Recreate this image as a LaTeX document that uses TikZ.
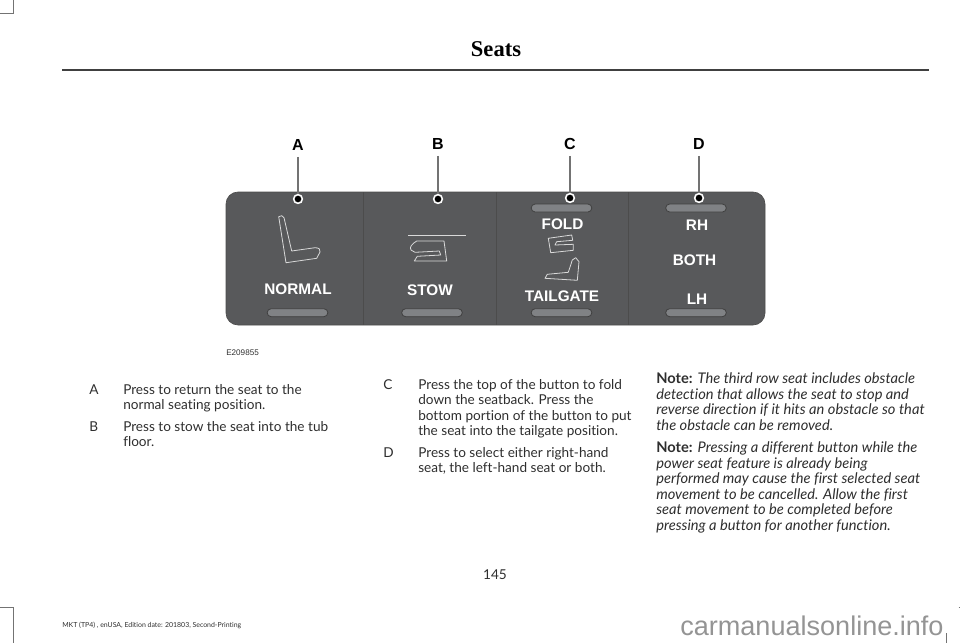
\documentclass[tikz,border=0pt]{standalone}
\usepackage{fontspec}
\setmainfont[Ligatures=NoCommon]{Lato}
\newfontfamily\panelfont{Liberation Sans}
\newfontfamily\titlefont{Liberation Serif}
\usetikzlibrary{
  positioning,
  arrows.meta
}
\definecolor{panelgray}{HTML}{58595B}
\definecolor{pillgray}{HTML}{808285}
\definecolor{bodyink}{HTML}{2E2E2E}
\tikzset{
  bodytext/.style={anchor=north west,inner sep=0,align=left,text=bodyink,
    font=\fontsize{10.2}{11.65}\selectfont},
  notetext/.style={bodytext,font=\fontsize{11}{11.65}\selectfont},
  paneltext/.style={text=white,inner sep=0,font=\panelfont\bfseries\fontsize{11.5}{12}\selectfont},
  callout/.style={text=black,inner sep=0,font=\panelfont\bfseries\fontsize{12}{13}\selectfont},
  pill/.style={draw=black!75,fill=pillgray,line width=0.6,rounded corners=3,
    minimum width=45.5,minimum height=6,inner sep=0},
  calloutdot/.style={circle,draw=white,fill=black,line width=1.2,minimum size=6.5,inner sep=0},
  seaticon/.style={draw=white!85!black,line width=0.6,line join=round},
  cropmark/.style={draw=black!55,line width=0.75},
  leader/.style={draw=black!55,line width=1}
}

\begin{document}
\begin{tikzpicture}[x=0.75pt,y=-0.75pt]
  \useasboundingbox (0,0) rectangle (960,643);

  % crop marks
  \draw[cropmark] (0,13) -- (13,13) -- (13,0);
  \draw[cropmark] (0,607) -- (13,607) -- (13,643);
  \draw[cropmark] (946,633) -- (946,643);
  \draw[cropmark] (958.5,607) -- (960,607);

  % header
  \node[inner sep=0,text=black,font=\titlefont\bfseries\fontsize{16.9}{18}\selectfont] (title) at (496,49) {Seats};
  \draw[black!75,line width=0.9] (62,70) -- (929,70);

  % panel
  \fill[panelgray,draw=black!70,line width=0.5,rounded corners=9] (226,192) rectangle (765,325);
  \draw[black!70,line width=0.6] (363.5,192) -- (363.5,325);
  \draw[black!70,line width=0.6] (496.7,192) -- (496.7,325);
  \draw[black!70,line width=0.6] (628.7,192) -- (628.7,325);

  \node[pill] (pillA) at (297.5,312.7) {};
  \node[pill] (pillB) at (432,312.7) {};
  \node[pill] (pillCtop) at (561.5,208) {};
  \node[pill] (pillCbot) at (561.5,312.7) {};
  \node[pill] (pillDtop) at (696,208) {};
  \node[pill] (pillDbot) at (696,312.7) {};

  \node[paneltext] (normal) at (298,289) {NORMAL};
  \node[paneltext] (stow) at (430,290) {STOW};
  \node[paneltext] (fold) at (562.5,224) {FOLD};
  \node[paneltext] (tailgate) at (562,296) {TAILGATE};
  \node[paneltext] (rh) at (697,225.5) {RH};
  \node[paneltext] (both) at (694.5,260.5) {BOTH};
  \node[paneltext] (lh) at (697,299) {LH};

  % seat icons
  \draw[seaticon] (278.7,216.7) -- (281.7,215.7) -- (284,217.7) -- (291.7,251) -- (315,247.7)
    .. controls (319,247.5) and (321,250) .. (320,252) -- (316.7,258.3) -- (286,262.7) -- cycle;
  \draw[seaticon] (408,235.3) -- (465.7,235.3);
  \draw[seaticon] (444,241) -- (416.7,241) .. controls (412,244) and (409,247) .. (411,250)
    -- (415,252.3) -- (439.3,251) -- (440.7,255) -- (417.3,256.3) -- (414.3,261) -- (446.7,261) -- cycle;
  \draw[seaticon] (548.3,238.3) -- (571.7,235) -- (572.7,240.3) -- (556.7,241.7) -- (555,245)
    -- (573.3,244.3) -- (573.3,250.3) -- (550.7,252.7) -- cycle;
  \draw[seaticon] (545,278.3) -- (547.3,274.3) -- (568.3,272.3) -- (572.3,260) -- (575.7,257.7)
    -- (579,261.7) -- (577.3,280.3) -- cycle;

  % callouts
  \node[callout] (labelA) at (298,145) {A};
  \node[callout] (labelB) at (438,144) {B};
  \node[callout] (labelC) at (570,144) {C};
  \node[callout] (labelD) at (699,144) {D};
  \node[calloutdot] (dotA) at (298,199) {};
  \node[calloutdot] (dotB) at (438,199) {};
  \node[calloutdot] (dotC) at (570,198) {};
  \node[calloutdot] (dotD) at (699,198) {};
  \draw[leader] (labelA.south) ++(0,6) coordinate (topA) -- (dotA);
  \draw[leader] (labelB.south) ++(0,6) coordinate (topB) -- (dotB);
  \draw[leader] (labelC.south) ++(0,6) coordinate (topC) -- (dotC);
  \draw[leader] (labelD.south) ++(0,6) coordinate (topD) -- (dotD);

  \node[anchor=west,inner sep=0,text=bodyink,font=\panelfont\fontsize{6.1}{7}\selectfont] (code) at (226,353) {E209855};

  % text columns
  \node[bodytext] (keyA) at (89,384) {A};
  \node[bodytext] (textA) at (123,384) {Press to return the seat to the\\normal seating position.};
  \node[bodytext] (keyB) at (89,421) {B};
  \node[bodytext] (textB) at (123,421) {Press to stow the seat into the tub\\floor.};
  \node[bodytext] (keyC) at (383,379) {C};
  \node[bodytext] (textC) at (418,379) {Press the top of the button to fold\\down the seatback. Press the\\bottom portion of the button to put\\the seat into the tailgate position.};
  \node[bodytext] (keyD) at (383,447) {D};
  \node[bodytext] (textD) at (418,447) {Press to select either right-hand\\seat, the left-hand seat or both.};
  \node[notetext] (noteA) at (656,372.5) {\textbf{Note:} \textit{The third row seat includes obstacle}\\\textit{detection that allows the seat to stop and}\\\textit{reverse direction if it hits an obstacle so that}\\\textit{the obstacle can be removed.}};
  \node[notetext] (noteB) at (656,441.5) {\textbf{Note:} \textit{Pressing a different button while the}\\\textit{power seat feature is already being}\\\textit{performed may cause the first selected seat}\\\textit{movement to be cancelled. Allow the first}\\\textit{seat movement to be completed before}\\\textit{pressing a button for another function.}};

  % footer
  \node[inner sep=0,text=bodyink,font=\fontsize{10.2}{12}\selectfont] (pagenum) at (495,575) {145};
  \node[anchor=west,inner sep=0,text=bodyink,font=\fontsize{5.2}{6}\selectfont] (footer) at (62,625) {MKT (TP4) , enUSA, Edition date: 201803, Second-Printing};
  \node[anchor=west,inner sep=0,text=black!42,font=\panelfont\fontsize{20.3}{21}\selectfont] (watermark) at (680,626) {carmanualsonline.info};
\end{tikzpicture}
\end{document}
